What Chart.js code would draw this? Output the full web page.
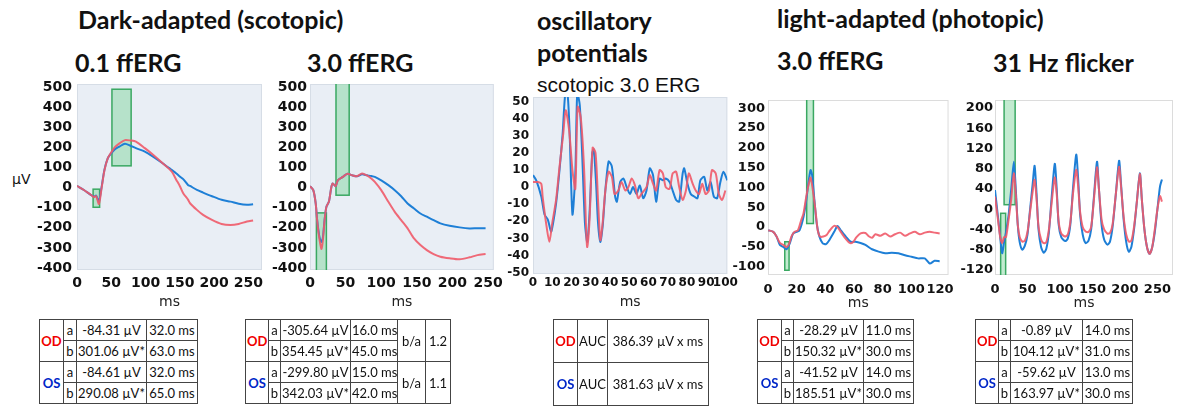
<!DOCTYPE html>
<html>
<head>
<meta charset="utf-8">
<title>ERG summary</title>
<script src="https://cdn.jsdelivr.net/npm/chart.js@4.4.0/dist/chart.umd.min.js"></script>
<style>
  body { margin: 0; background: #fff; }
  #fig { position: relative; width: 1192px; height: 410px; overflow: hidden; font-family: Lato, sans-serif; color: #111; }
  #fig canvas, .head, .sub, .unit, table { position: absolute; }
  .head { font-weight: bold; font-size: 25px; line-height: 1; white-space: nowrap; }
  .sub { font-family: "Liberation Sans", Arial, sans-serif; font-size: 21px; line-height: 1; white-space: nowrap; }
  .unit { font-family: "DejaVu Sans", sans-serif; font-size: 14px; line-height: 1; }
  table { border-collapse: collapse; table-layout: fixed; font-size: 13px; top: 319px; }
  td { border: 1px solid #444; padding: 0 1px; height: 20px; line-height: 20px; text-align: center; white-space: nowrap; overflow: hidden; }
  .od { color: #f00000; font-weight: bold; }
  .os { color: #0026c8; font-weight: bold; }
</style>
</head>
<body>
<div id="fig">
  <div class="head" style="left:78px; top:7px">Dark-adapted (scotopic)</div>
  <div class="head" style="left:75px; top:50px">0.1 ffERG</div>
  <div class="head" style="left:307px; top:50px">3.0 ffERG</div>
  <div class="head" style="left:537px; top:8px">oscillatory</div>
  <div class="head" style="left:537px; top:40px">potentials</div>
  <div class="sub" style="left:537px; top:74px">scotopic 3.0 ERG</div>
  <div class="head" style="left:777px; top:6px">light-adapted (photopic)</div>
  <div class="head" style="left:777px; top:48px">3.0 ffERG</div>
  <div class="head" style="left:993px; top:50px">31 Hz flicker</div>
  <div class="unit" style="left:12px; top:172px">µV</div>

  <canvas id="c1" width="252" height="241" style="left:20px; top:70px"></canvas>
  <canvas id="c2" width="248" height="241" style="left:260px; top:70px"></canvas>
  <canvas id="c3" width="243" height="226" style="left:497px; top:85px"></canvas>
  <canvas id="c4" width="233" height="224" style="left:728px; top:88px"></canvas>
  <canvas id="c5" width="230" height="224" style="left:955px; top:88px"></canvas>

  <table style="left:39px; width:158px">
    <colgroup><col style="width:24px"><col style="width:13px"><col style="width:70px"><col style="width:51px"></colgroup>
    <tr><td rowspan="2" class="od">OD</td><td>a</td><td>-84.31 µV</td><td>32.0 ms</td></tr>
    <tr><td>b</td><td>301.06 µV*</td><td>63.0 ms</td></tr>
    <tr><td rowspan="2" class="os">OS</td><td>a</td><td>-84.61 µV</td><td>32.0 ms</td></tr>
    <tr><td>b</td><td>290.08 µV*</td><td>65.0 ms</td></tr>
  </table>

  <table style="left:245px; width:205px">
    <colgroup><col style="width:23px"><col style="width:12px"><col style="width:70px"><col style="width:47px"><col style="width:28px"><col style="width:25px"></colgroup>
    <tr><td rowspan="2" class="od">OD</td><td>a</td><td>-305.64 µV</td><td>16.0 ms</td><td rowspan="2">b/a</td><td rowspan="2">1.2</td></tr>
    <tr><td>b</td><td>354.45 µV*</td><td>45.0 ms</td></tr>
    <tr><td rowspan="2" class="os">OS</td><td>a</td><td>-299.80 µV</td><td>15.0 ms</td><td rowspan="2">b/a</td><td rowspan="2">1.1</td></tr>
    <tr><td>b</td><td>342.03 µV*</td><td>42.0 ms</td></tr>
  </table>

  <table style="left:553px; width:155px">
    <colgroup><col style="width:24px"><col style="width:30px"><col style="width:101px"></colgroup>
    <tr><td class="od" style="height:42px">OD</td><td>AUC</td><td>386.39 µV x ms</td></tr>
    <tr><td class="os" style="height:42px">OS</td><td>AUC</td><td>381.63 µV x ms</td></tr>
  </table>

  <table style="left:757px; width:156px">
    <colgroup><col style="width:24px"><col style="width:12px"><col style="width:70px"><col style="width:50px"></colgroup>
    <tr><td rowspan="2" class="od">OD</td><td>a</td><td>-28.29 µV</td><td>11.0 ms</td></tr>
    <tr><td>b</td><td>150.32 µV*</td><td>30.0 ms</td></tr>
    <tr><td rowspan="2" class="os">OS</td><td>a</td><td>-41.52 µV</td><td>14.0 ms</td></tr>
    <tr><td>b</td><td>185.51 µV*</td><td>30.0 ms</td></tr>
  </table>

  <table style="left:975px; width:157px">
    <colgroup><col style="width:23px"><col style="width:12px"><col style="width:72px"><col style="width:50px"></colgroup>
    <tr><td rowspan="2" class="od">OD</td><td>a</td><td>-0.89 µV</td><td>14.0 ms</td></tr>
    <tr><td>b</td><td>104.12 µV*</td><td>31.0 ms</td></tr>
    <tr><td rowspan="2" class="os">OS</td><td>a</td><td>-59.62 µV</td><td>13.0 ms</td></tr>
    <tr><td>b</td><td>163.97 µV*</td><td>30.0 ms</td></tr>
  </table>
</div>

<script>
// 0.1 ffERG, dark-adapted (ms / µV)
const p1Time = [0, 10, 20, 25, 28, 32, 36, 40, 45, 50, 55, 62, 70, 78, 86, 99, 111, 125, 138, 145, 150, 155, 162, 165, 175, 184, 197, 211, 224, 236, 248, 257];
const p1OD = [8, -12, -36, -48, -42, -82, 0, 85, 146, 175, 200, 220, 236, 234, 229, 196, 163, 121, 80, 38, 8, -28, -60, -78, -111, -136, -161, -181, -186, -181, -169, -164];
const p1OS = [8, -12, -36, -45, -40, -70, 5, 88, 146, 171, 190, 204, 218, 208, 196, 179, 154, 121, 88, 70, 55, 42, 13, 8, -12, -25, -43, -61, -70, -81, -86, -83];
const p1Boxes = [[23.5, 33, -98, -8], [51, 79, 108, 489]];
const p1XTicks = [0, 50, 100, 150, 200, 250];
const p1YTicks = [-400, -300, -200, -100, 0, 100, 200, 300, 400, 500];

// 3.0 ffERG, dark-adapted
const p2Time = [0, 4.6, 8, 10, 13, 16, 18, 20.5, 23, 26.5, 30, 32, 36, 39, 46, 52.5, 59, 66, 73, 80, 86, 91, 100, 110, 119, 128, 137, 146, 155, 164, 173.5, 183, 196, 210, 224, 235, 246.5];
const p2OD = [7, -13, -79, -162, -250, -305, -265, -162, -96, -71, 3, 20, 7, 36, 53, 69, 61, 56, 70, 60, 45, 28, -13, -71, -121, -162, -203, -253, -286, -311, -331, -344, -352, -357, -347, -336, -331];
const p2OS = [7, -13, -79, -160, -240, -270, -250, -160, -96, -71, 3, 20, 7, 36, 53, 69, 61, 56, 66, 61, 57, 53, 36, 12, -13, -43, -79, -104, -129, -145, -162, -178, -190, -198, -203, -202, -202];
const p2Boxes = [[9, 23, -420, -126], [36.5, 55, -38, 520]];
const p2XTicks = p1XTicks;
const p2YTicks = p1YTicks;

// oscillatory potentials, scotopic 3.0 ERG
const p3TimeOD = [0, 2.6, 4.3, 5, 6.8, 8.5, 10, 12, 13.7, 15.7, 17, 18.8, 20.5, 22, 23.2, 24.8, 26.5, 27.7, 28.2, 29.4, 31, 32.5, 33.8, 35, 36.2, 37.6, 39.3, 41, 42.4, 44.4, 46, 48, 49.6, 51.3, 53, 54.7, 56.4, 59, 60.7, 62.4, 64, 65.8, 67.5, 69, 71, 72.6, 74.4, 76, 77.8, 79.5, 81, 83, 84.6, 86.3, 88, 89.7, 91.5, 93, 95, 96.6, 98.3, 100];
const p3OD = [3, 3, 2, -5.5, -21, -32, -21, -7.5, 11, 31, 45, 33, 10, -1, 47, 41, 12, -27, -35, -19, 23, 20, -7.5, -31, -21, -2, 9, 6, -4, -2, 3, -2, 0, 5, 1, -6.5, -4, 0, 7, 2, -2, 10, 8, 0, -1, 8, 9, 0, -7.5, -2, 8, 2, -2, -4, 2, -4, -2, 10, 8, -4, -7.5, -2];
const p3TimeOS = [0, 1.7, 4.3, 6, 7.7, 9.4, 10.3, 12, 13.7, 15.4, 16.8, 18, 19, 20.5, 22, 23, 24.3, 25.6, 27, 28.2, 29.4, 30.8, 31.6, 32.8, 33.8, 35, 36.2, 37.6, 39.3, 41, 42.7, 43.6, 45.3, 47, 48.7, 50.4, 52, 53.8, 55.5, 57.3, 59, 60.7, 62.4, 64, 65.8, 67.5, 69, 71, 72.6, 74.4, 76, 77.8, 78.6, 80.3, 82, 83.8, 85.5, 87, 89, 90.6, 92.3, 94, 95.7, 97.4, 99, 101];
const p3OS = [7, 4, -5.5, -16, -19, -26, -22, -9.5, 9, 31, 55, 54, 33, -16, 8, 55, 48, 18, -21, -32, -15, 20, 22, 2, -21, -32, -23, -2, 15, 12, -5.5, -8.5, 3, 5, 0, -4, 0, -4, 1, -6.5, -2, 11, 7, -8.5, 5, 4, 5, 3, -2, -7.5, -8.5, 8, 11, 2, -4, -5.5, -6.5, 4, 6, -2, 3, -5.5, -6.5, 3, 9, 4];
const p3XTicks = [0, 10, 20, 30, 40, 50, 60, 70, 80, 90, 100];
const p3YTicks = [-50, -40, -30, -20, -10, 0, 10, 20, 30, 40, 50];

// 3.0 ffERG, light-adapted
const p4TimeOD = [0.2, 3.7, 6, 8.3, 10.6, 12.9, 14.7, 16.3, 18.6, 20.9, 23.2, 24.8, 26.7, 28.5, 29.7, 31.3, 33.1, 34.7, 36.3, 38.6, 40.9, 43.2, 46.2, 48.5, 51.5, 54.3, 57, 59.3, 61.6, 64.6, 68, 70.3, 72.6, 74.9, 78.4, 81.8, 85.3, 88.7, 92.2, 95.6, 99.1, 102.5, 106, 109.4, 112.9, 116.3, 119.8];
const p4OD = [-8, -12, -24, -40, -45, -50, -43, -24, -12, -8, 18, 35, 77, 110, 125, 93, 43, -8, -24, -24, -20, -8, 3, 0, -16, -30, -40, -38, -26, -16, -15, -23, -27, -18, -22, -16, -24, -18, -14, -22, -16, -12, -18, -14, -12, -14, -16];
const p4TimeOS = [0.2, 3.7, 6, 8.3, 10.6, 12.9, 15.2, 17.5, 19.8, 22, 24.8, 26.7, 28.5, 29.7, 30.8, 32.4, 34, 35.9, 38.2, 40.5, 42.8, 46.2, 48.5, 50.8, 54.3, 57.7, 61.1, 64.6, 68, 72.6, 77.2, 81.8, 86.4, 91, 95.6, 100.2, 104.8, 109.4, 112.9, 116.3, 119.8];
const p4OS = [-8, -12, -24, -45, -50, -56, -41, -16, -12, -8, 26, 68, 119, 144, 131, 68, 9, -24, -41, -43, -33, -12, 3, -8, -24, -37, -37, -40, -45, -56, -62, -66, -65, -66, -71, -75, -79, -79, -92, -85, -86];
const p4Boxes = [[11.7, 14.7, -109, -37], [27, 31.7, 9, 330]];
const p4XTicks = [0, 20, 40, 60, 80, 100, 120];
const p4YTicks = [-100, -50, 0, 50, 100, 150, 200, 250, 300];

// 31 Hz flicker
const p5Time = [0, 5, 8, 11, 14, 17, 21, 25, 29, 32, 35, 38, 42, 46, 50, 54, 58, 61, 64, 67, 71, 75, 79, 83, 87, 92, 95, 98, 102, 108, 112, 116, 120, 125, 128, 131, 135, 139.5, 144, 148, 152, 157, 160, 164, 168, 173, 177, 181, 186, 191, 194, 198, 202, 206, 210, 214, 218, 223, 226, 230, 234, 238, 242, 246, 250, 254, 257];
const p5OD = [25, -25, -55, -67, -55, -55, -20, 20, 71, 30, -30, -55, -64, -62, -45, -5, 35, 58, 20, -35, -60, -67, -65, -40, 10, 63, 30, -25, -48, -54, -50, -25, 30, 78, 45, -5, -35, -44, -45, -35, 15, 83, 40, -20, -40, -48, -47, -30, 30, 84, 45, -15, -50, -64, -62, -35, 10, 70, 20, -40, -75, -88, -75, -40, 0, 26, 15];
const p5OS = [38, -20, -55, -87, -65, -45, -10, 40, 94, 40, -30, -65, -80, -72, -50, 0, 50, 86, 30, -40, -75, -86, -78, -45, 20, 90, 40, -30, -55, -63, -58, -30, 40, 108, 60, -10, -50, -67, -62, -40, 20, 94, 40, -30, -60, -70, -64, -35, 30, 96, 50, -20, -65, -84, -74, -40, 10, 71, 20, -40, -75, -88, -75, -45, 0, 45, 59];
const p5Boxes = [[8.7, 16.4, -135, -8], [14, 31, 9, 220]];
const p5XTicks = [0, 50, 100, 150, 200, 250];
const p5YTicks = [-120, -80, -40, 0, 40, 80, 120, 160, 200];

const RED = 'rgba(240, 90, 105, 0.9)';
const BLUE = '#1e7fd6';

function pairs(xs, ys) {
    return xs.map((x, i) => ({ x: x, y: ys[i] }));
}

function fixedTicks(values) {
    return function (scale) {
        scale.ticks = values.map(v => ({ value: v }));
    };
}

// plot background, frame and the green marker windows
const ergDecor = {
    id: 'ergDecor',
    beforeDatasetsDraw(chart, args, opts) {
        const { ctx, chartArea: a, scales: { x, y } } = chart;
        ctx.save();
        ctx.fillStyle = opts.bg;
        ctx.fillRect(a.left, a.top, a.width, a.height);
        ctx.strokeStyle = opts.frame;
        ctx.lineWidth = 1;
        ctx.strokeRect(a.left + 0.5, a.top + 0.5, a.width - 1, a.height - 1);
        ctx.beginPath();
        ctx.rect(a.left, a.top, a.width, a.height);
        ctx.clip();
        (opts.boxes || []).forEach(b => {
            const x0 = x.getPixelForValue(b[0]);
            const x1 = x.getPixelForValue(b[1]);
            const y0 = y.getPixelForValue(b[3]);
            const y1 = y.getPixelForValue(b[2]);
            ctx.fillStyle = 'rgba(120, 210, 150, 0.45)';
            ctx.fillRect(x0, y0, x1 - x0, y1 - y0);
            ctx.strokeStyle = '#3aa862';
            ctx.lineWidth = 1.5;
            ctx.strokeRect(x0, y0, x1 - x0, y1 - y0);
        });
        ctx.restore();
    }
};

function makePanel(id, p) {
    new Chart(document.getElementById(id), {
        type: 'line',
        data: {
            datasets: [
                { data: pairs(p.tOD, p.od), borderColor: RED, order: 0 },
                { data: pairs(p.tOS, p.os), borderColor: BLUE, order: 1 }
            ]
        },
        options: {
            responsive: false,
            animation: false,
            parsing: false,
            layout: { padding: { top: p.pt, right: p.pr, left: 0, bottom: 0 } },
            elements: {
                line: { borderWidth: 2, tension: 0.25 },
                point: { radius: 0 }
            },
            scales: {
                x: {
                    type: 'linear',
                    min: 0,
                    max: p.xMax,
                    afterBuildTicks: fixedTicks(p.xTicks),
                    afterFit: s => { s.height = p.xh; },
                    grid: { display: false, drawTicks: false },
                    border: { display: false },
                    ticks: {
                        autoSkip: false, maxRotation: 0, padding: p.xPad, color: '#111',
                        font: { family: 'DejaVu Sans', weight: 'bold', size: p.font },
                        callback: v => String(v)
                    },
                    title: {
                        display: true, text: 'ms', color: '#222', padding: { top: 0, bottom: 0 },
                        font: { family: 'DejaVu Sans', size: 14 }
                    }
                },
                y: {
                    min: p.yMin,
                    max: p.yMax,
                    afterBuildTicks: fixedTicks(p.yTicks),
                    afterFit: s => { s.width = p.yw; },
                    grid: { display: false, drawTicks: false },
                    border: { display: false },
                    ticks: {
                        padding: p.yPad, color: '#111',
                        font: { family: 'DejaVu Sans', weight: 'bold', size: p.font },
                        callback: v => String(v)
                    }
                }
            },
            plugins: {
                legend: { display: false },
                tooltip: { enabled: false },
                ergDecor: { bg: p.bg, frame: p.frame, boxes: p.boxes }
            }
        },
        plugins: [ergDecor]
    });
}

document.addEventListener('DOMContentLoaded', function () {
    const scoBg = '#e9eef5';
    const scoFrame = '#d6dde6';

    makePanel('c1', {
        tOD: p1Time, od: p1OD, tOS: p1Time, os: p1OS, boxes: p1Boxes,
        xMax: 270, yMin: -410, yMax: 515, xTicks: p1XTicks, yTicks: p1YTicks,
        yw: 57, pt: 14, pr: 10, xh: 41, xPad: 5, yPad: 5, font: 14, bg: scoBg, frame: scoFrame
    });

    makePanel('c2', {
        tOD: p2Time, od: p2OD, tOS: p2Time, os: p2OS, boxes: p2Boxes,
        xMax: 258, yMin: -410, yMax: 515, xTicks: p2XTicks, yTicks: p2YTicks,
        yw: 50, pt: 14, pr: 10, xh: 41, xPad: 5, yPad: 3, font: 14, bg: scoBg, frame: scoFrame
    });

    makePanel('c3', {
        tOD: p3TimeOD, od: p3OD, tOS: p3TimeOS, os: p3OS, boxes: [],
        xMax: 101, yMin: -50.8, yMax: 52.7, xTicks: p3XTicks, yTicks: p3YTicks,
        yw: 36, pt: 12, pr: 10, xh: 37, xPad: 2, yPad: 4, font: 12, bg: scoBg, frame: scoFrame
    });

    makePanel('c4', {
        tOD: p4TimeOD, od: p4OD, tOS: p4TimeOS, os: p4OS, boxes: p4Boxes,
        xMax: 126, yMin: -121, yMax: 321, xTicks: p4XTicks, yTicks: p4YTicks,
        yw: 40, pt: 12, pr: 10, xh: 37, xPad: 7, yPad: 3, font: 13, bg: '#ffffff', frame: '#dcdcdc'
    });

    makePanel('c5', {
        tOD: p5Time, od: p5OD, tOS: p5Time, os: p5OS, boxes: p5Boxes,
        xMax: 274, yMin: -130, yMax: 216, xTicks: p5XTicks, yTicks: p5YTicks,
        yw: 40, pt: 12, pr: 12, xh: 37, xPad: 7, yPad: 2, font: 13, bg: '#ffffff', frame: '#dcdcdc'
    });
});
</script>
</body>
</html>
